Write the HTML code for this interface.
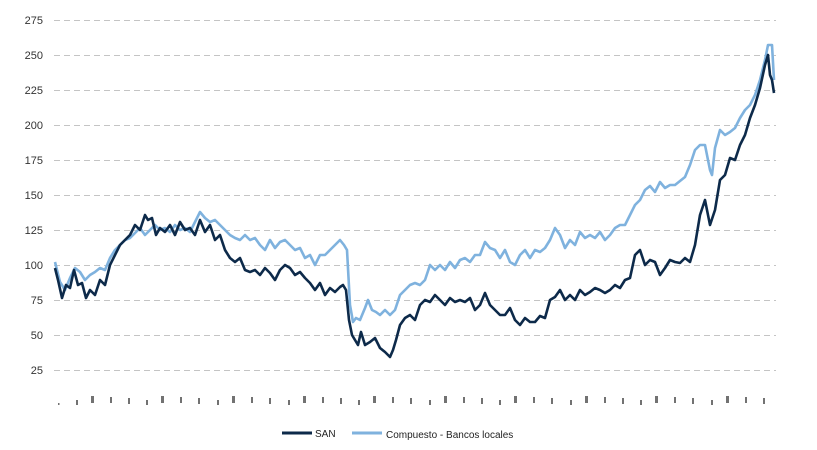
<!DOCTYPE html>
<html><head><meta charset="utf-8"><style>
html,body{margin:0;padding:0;background:#fff;}
svg{display:block;font-family:"Liberation Sans",Arial,sans-serif;}
</style></head><body>
<svg width="817" height="450" viewBox="0 0 817 450">
<g stroke="#c4c4c4" stroke-width="1" stroke-dasharray="6,4">
<line x1="54" x2="776" y1="20.5" y2="20.5"/>
<line x1="54" x2="776" y1="55.5" y2="55.5"/>
<line x1="54" x2="776" y1="90.5" y2="90.5"/>
<line x1="54" x2="776" y1="125.5" y2="125.5"/>
<line x1="54" x2="776" y1="160.5" y2="160.5"/>
<line x1="54" x2="776" y1="195.5" y2="195.5"/>
<line x1="54" x2="776" y1="230.5" y2="230.5"/>
<line x1="54" x2="776" y1="265.5" y2="265.5"/>
<line x1="54" x2="776" y1="300.5" y2="300.5"/>
<line x1="54" x2="776" y1="335.5" y2="335.5"/>
<line x1="54" x2="776" y1="370.5" y2="370.5"/>
</g>
<g font-size="11" fill="#333" text-anchor="end">
<text x="43" y="24">275</text><text x="43" y="59">250</text><text x="43" y="94">225</text>
<text x="43" y="129">200</text><text x="43" y="164">175</text><text x="43" y="199">150</text>
<text x="43" y="234">125</text><text x="43" y="269">100</text><text x="43" y="304">75</text>
<text x="43" y="339">50</text><text x="43" y="374">25</text>
</g>
<g fill="#444" opacity="0.75">
<rect x="58" y="403" width="1.5" height="2"/>
<rect x="76" y="400" width="2" height="5"/><rect x="91" y="396" width="3" height="7"/><rect x="110" y="397" width="2" height="6"/><rect x="128" y="398" width="2" height="6"/>
<rect x="146" y="400" width="2" height="5"/><rect x="161" y="396" width="3" height="7"/><rect x="180" y="397" width="2" height="6"/><rect x="198" y="398" width="2" height="6"/>
<rect x="217" y="400" width="2" height="5"/><rect x="232" y="396" width="3" height="7"/><rect x="251" y="397" width="2" height="6"/><rect x="269" y="398" width="2" height="6"/>
<rect x="288" y="400" width="2" height="5"/><rect x="303" y="396" width="3" height="7"/><rect x="322" y="397" width="2" height="6"/><rect x="340" y="398" width="2" height="6"/>
<rect x="358" y="400" width="2" height="5"/><rect x="373" y="396" width="3" height="7"/><rect x="392" y="397" width="2" height="6"/><rect x="410" y="398" width="2" height="6"/>
<rect x="429" y="400" width="2" height="5"/><rect x="444" y="396" width="3" height="7"/><rect x="463" y="397" width="2" height="6"/><rect x="481" y="398" width="2" height="6"/>
<rect x="499" y="400" width="2" height="5"/><rect x="514" y="396" width="3" height="7"/><rect x="533" y="397" width="2" height="6"/><rect x="551" y="398" width="2" height="6"/>
<rect x="570" y="400" width="2" height="5"/><rect x="585" y="396" width="3" height="7"/><rect x="604" y="397" width="2" height="6"/><rect x="622" y="398" width="2" height="6"/>
<rect x="640" y="400" width="2" height="5"/><rect x="655" y="396" width="3" height="7"/><rect x="674" y="397" width="2" height="6"/><rect x="692" y="398" width="2" height="6"/>
<rect x="711" y="400" width="2" height="5"/><rect x="726" y="396" width="3" height="7"/><rect x="745" y="397" width="2" height="6"/><rect x="763" y="398" width="2" height="6"/>
</g>
<polyline fill="none" stroke="#7fb2de" stroke-width="2.6" stroke-linejoin="round" points="55,262 60,282 65,290 70,278 75,268 80,272 85,280 90,275 95,272 100,268 105,270 110,258 115,250 120,245 125,240 130,238 135,233 140,228 145,235 150,230 155,225 160,230 165,228 170,232 175,225 180,230 185,228 190,232 195,222 200,212 205,218 210,222 215,220 220,225 225,230 230,235 235,238 240,240 245,235 250,240 255,238 260,245 265,250 270,240 275,248 280,242 285,240 290,245 295,250 300,248 305,258 310,255 315,265 320,255 325,255 330,250 335,245 340,240 344,245 347,250 350,305 353,322 356,318 360,320 365,308 368,300 372,310 376,312 380,315 385,310 390,315 395,310 400,295 405,290 410,285 415,283 420,285 425,280 430,265 435,270 440,265 445,270 450,262 455,268 460,260 465,258 470,262 475,255 480,255 485,242 490,248 495,250 500,258 505,250 510,262 515,265 520,255 525,250 530,258 535,250 540,252 545,248 550,240 555,228 560,235 565,248 570,240 575,245 580,232 585,238 590,235 595,238 600,232 605,240 610,235 615,228 620,225 625,225 630,215 635,205 640,200 645,190 650,186 655,192 660,182 665,188 670,185 675,185 680,181 685,177 690,165 695,150 700,145 705,145 710,170 712,175 715,148 720,130 725,135 730,132 735,128 740,118 745,110 750,105 755,95 760,80 765,60 768,45 772,45 774,80"/>
<polyline fill="none" stroke="#0d2a4a" stroke-width="2.6" stroke-linejoin="round" points="55,268 58,280 62,298 66,285 70,288 74,270 78,285 82,283 86,298 90,290 95,295 100,280 105,285 110,265 115,255 120,245 125,240 130,235 135,225 140,230 145,215 148,220 152,218 156,235 160,228 165,232 170,225 175,235 180,222 185,230 190,228 195,235 200,220 205,232 210,225 215,240 220,235 225,250 230,258 235,262 240,258 245,270 250,272 255,270 260,275 265,268 270,273 275,280 280,270 285,265 290,268 295,275 300,272 305,278 310,283 315,290 320,283 325,295 330,288 335,292 340,287 343,285 346,290 349,320 352,335 355,340 358,345 361,332 365,345 370,342 375,338 380,348 385,352 390,357 393,350 396,340 400,325 405,318 410,315 415,320 420,305 425,300 430,302 435,295 440,300 445,305 450,298 455,302 460,300 465,302 470,298 475,310 480,305 485,293 490,305 495,310 500,315 505,315 510,308 515,320 520,325 525,318 530,322 535,322 540,316 545,318 550,300 555,297 560,290 565,300 570,295 575,300 580,290 585,295 590,292 595,288 600,290 605,293 610,290 615,285 620,288 625,280 630,278 635,255 640,250 645,265 650,260 655,262 660,275 665,268 670,260 675,262 680,263 685,258 690,262 695,245 700,215 705,200 710,225 715,210 720,180 725,175 730,158 735,160 740,145 745,135 750,118 755,105 760,88 765,65 768,55 770,75 772,80 774,93"/>
<line x1="282" x2="312" y1="433" y2="433" stroke="#0d2a4a" stroke-width="3"/>
<text x="315" y="437" font-size="10" fill="#222">SAN</text>
<line x1="352" x2="382" y1="433" y2="433" stroke="#7fb2de" stroke-width="3"/>
<text x="386" y="438" font-size="10" fill="#222">Compuesto - Bancos locales</text>
</svg>
</body></html>
